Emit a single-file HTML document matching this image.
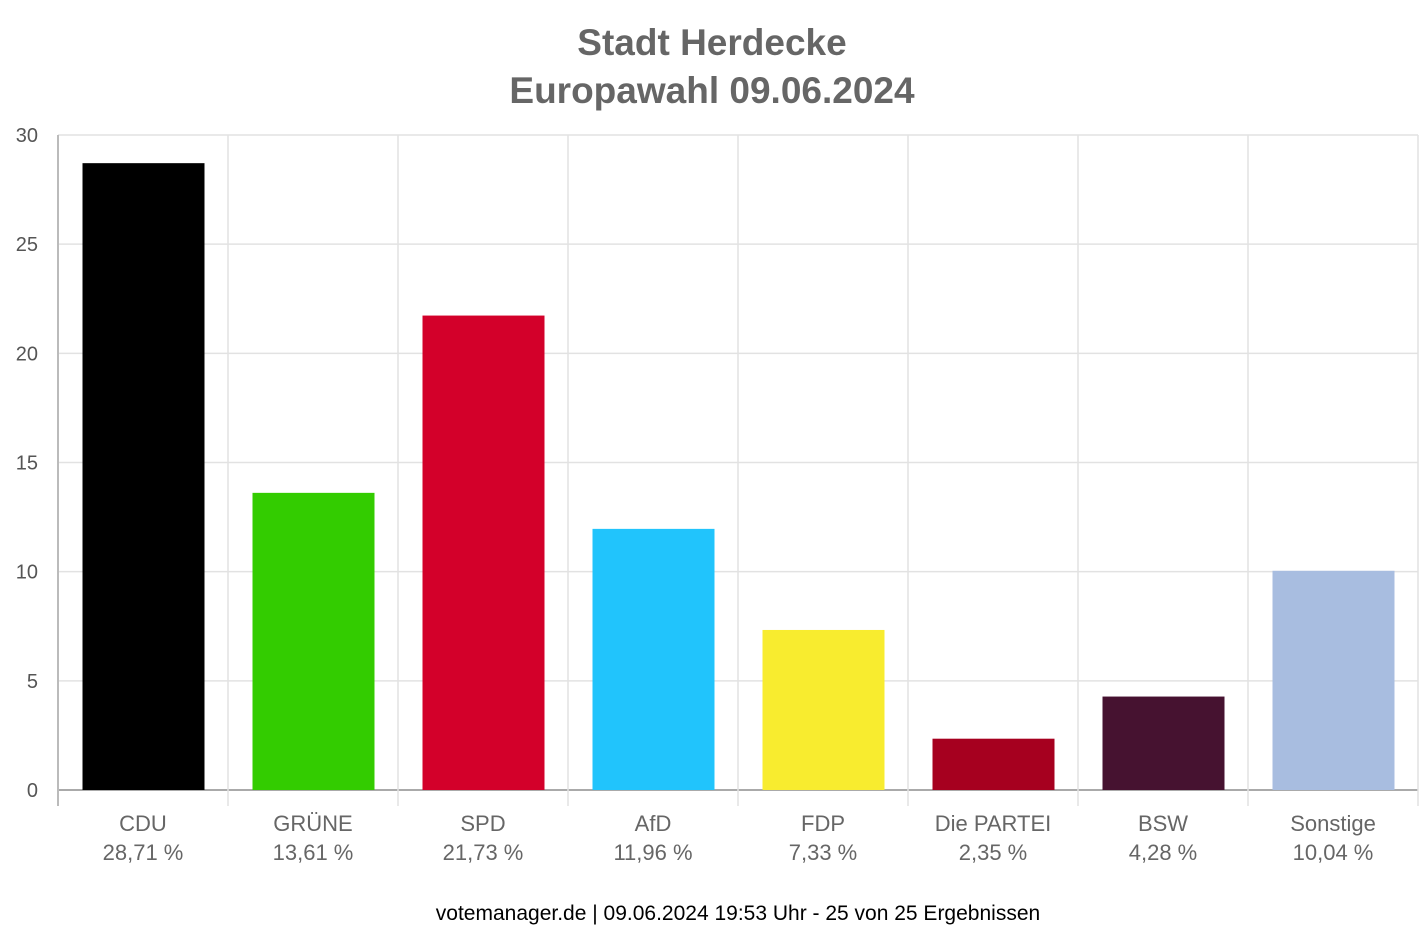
<!DOCTYPE html>
<html><head><meta charset="utf-8"><style>
body{margin:0;background:#fff;font-family:"Liberation Sans",sans-serif}
</style></head><body>
<svg id="chart" width="1424" height="936" style="display:block">
<text x="712" y="55" text-anchor="middle" font-size="37" font-weight="bold" fill="#666">Stadt Herdecke</text>
<text x="712" y="103" text-anchor="middle" font-size="37" font-weight="bold" fill="#666">Europawahl 09.06.2024</text>
<g id="grid"></g><g id="bars"></g><g id="labels"></g>
<text x="738" y="920" text-anchor="middle" font-size="21" fill="#000">votemanager.de | 09.06.2024 19:53 Uhr - 25 von 25 Ergebnissen</text>
</svg>
<script>
const categories=["CDU","GRÜNE","SPD","AfD","FDP","Die PARTEI","BSW","Sonstige"];
const values=[28.71,13.61,21.73,11.96,7.33,2.35,4.28,10.04];
const valueLabels=["28,71 %","13,61 %","21,73 %","11,96 %","7,33 %","2,35 %","4,28 %","10,04 %"];
const colors=["#000000","#33cc00","#d3002a","#21c4fc","#f8ec2f","#a6001f","#461230","#a8bde0"];
const yTicks=[0,5,10,15,20,25,30];
const NS="http://www.w3.org/2000/svg";
const L=58,R=1418,T=135,B=790,yMax=30;
const y=v=>B-(v/yMax)*(B-T);
const bw=(R-L)/categories.length;
const x=i=>L+i*bw;
function mk(t,a,p){const e=document.createElementNS(NS,t);for(const k in a)e.setAttribute(k,a[k]);p.appendChild(e);return e;}
const g=document.getElementById('grid'),bg=document.getElementById('bars'),lg=document.getElementById('labels');
yTicks.forEach(v=>{
 const ln=mk('line',{x1:L,x2:R,y1:y(v),y2:y(v),stroke:v===0?'#aaa':'#e2e2e2','stroke-width':v===0?2:1.5},g);
 
 
 const t=mk('text',{x:38,y:y(v)+7,'text-anchor':'end','font-size':20,fill:'#555'},lg);
 t.textContent=v;
 
 
});
for(let i=0;i<=categories.length;i++){
 const ln=mk('line',{x1:x(i),x2:x(i),y1:T,y2:B+16,stroke:i===0?'#bbb':'#e2e2e2','stroke-width':i===0?2:1.5},g);
 
 
}
categories.forEach((c,i)=>{
 const w=122,cx=x(i)+bw/2;
 const r=mk('rect',{x:cx-w/2+0.5,y:y(values[i]),width:w,height:B-y(values[i]),fill:colors[i]},bg);
 
 
 const t1=mk('text',{x:cx,y:831,'text-anchor':'middle','font-size':22,fill:'#666'},lg);
 t1.textContent=c;
 
 
 const t2=mk('text',{x:cx,y:860,'text-anchor':'middle','font-size':22,fill:'#666'},lg);
 t2.textContent=valueLabels[i];
 
 
});
</script>
</body></html>
